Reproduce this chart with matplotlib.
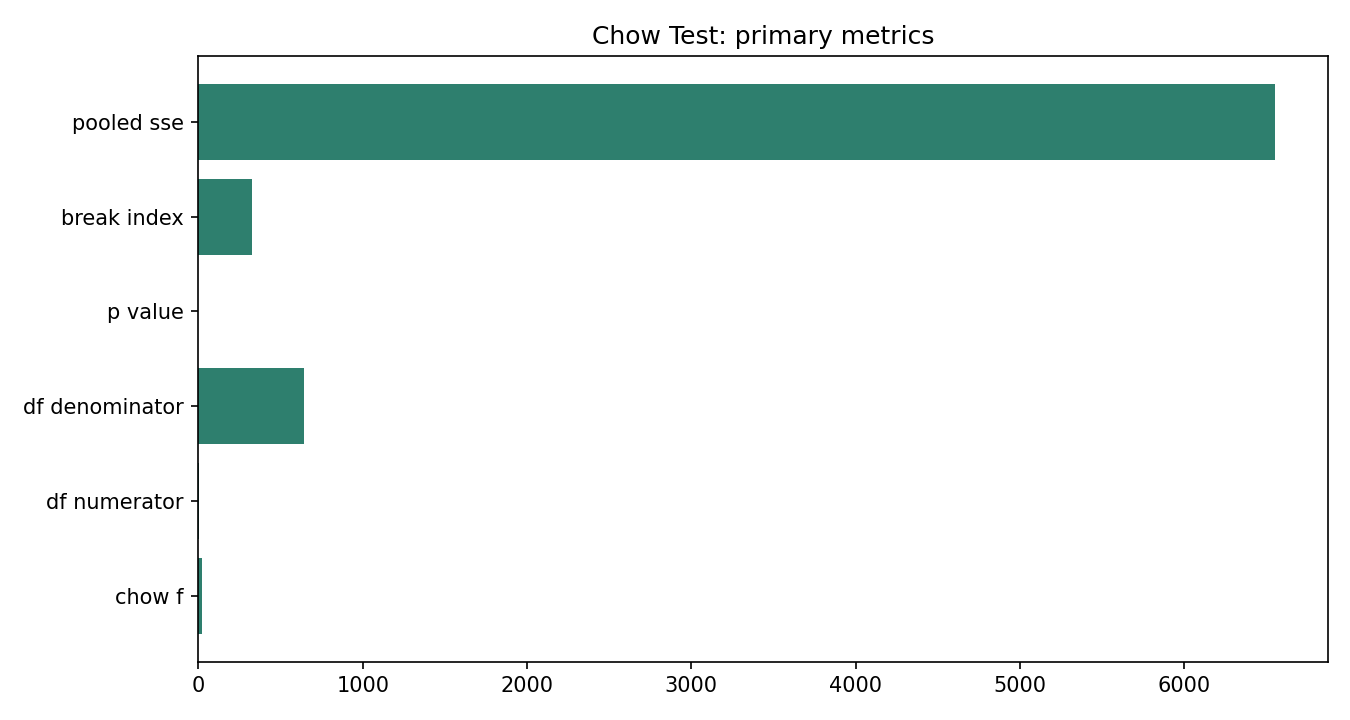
import matplotlib
matplotlib.use("Agg")
import matplotlib.pyplot as plt

categories = ["chow f", "df numerator", "df denominator", "p value", "break index", "pooled sse"]
values = [24.0, 1.0, 645.0, 0.0, 323.0, 6550.0]

fig, ax = plt.subplots(figsize=(9, 4.8), dpi=150)
ax.barh(categories, values, color="#2e7f6e")
ax.set_title("Chow Test: primary metrics", fontsize=12)
fig.subplots_adjust(left=0.147, right=0.984, top=0.922, bottom=0.081)
fig.savefig("out.png", dpi=150)
